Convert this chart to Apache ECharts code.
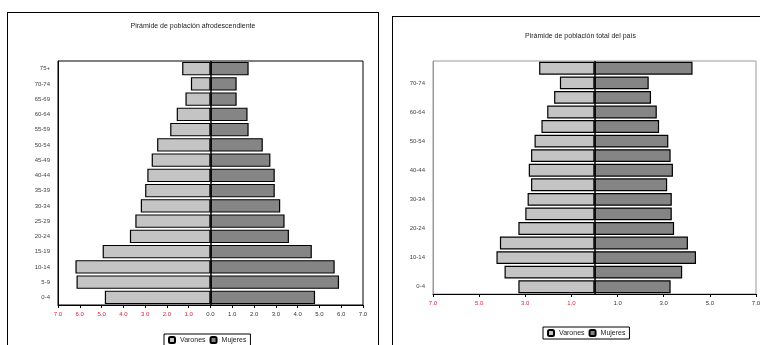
<!DOCTYPE html>
<html>
<head>
<meta charset="utf-8">
<script src="https://cdn.jsdelivr.net/npm/echarts@6/dist/echarts.min.js"></script>
<style>
  body { margin: 0; background: #fff; width: 760px; height: 345px; overflow: hidden; position: relative; }
  .panel { position: absolute; border: 1.5px solid #000; background: #fff; }
  #afro { left: 7px; top: 12px; width: 370px; height: 345px; }
  #total { left: 392px; top: 16px; width: 375px; height: 345px; }
</style>
</head>
<body>
<div id="afro" class="panel"></div>
<div id="total" class="panel"></div>
<script>
var ageGroups = ['0-4', '5-9', '10-14', '15-19', '20-24', '25-29', '30-34', '35-39',
  '40-44', '45-49', '50-54', '55-59', '60-64', '65-69', '70-74', '75+'];

// pirámide afrodescendiente (% de población)
var afroVarones = [4.85, 6.15, 6.2, 4.95, 3.7, 3.45, 3.2, 3.0, 2.9, 2.7, 2.45, 1.85, 1.55, 1.15, 0.9, 1.3];
var afroMujeres = [4.8, 5.9, 5.7, 4.65, 3.6, 3.4, 3.2, 2.95, 2.95, 2.75, 2.4, 1.75, 1.7, 1.2, 1.2, 1.75];

// pirámide total del país
var totalVarones = [3.3, 3.9, 4.25, 4.1, 3.3, 3.0, 2.9, 2.75, 2.85, 2.75, 2.6, 2.3, 2.05, 1.75, 1.5, 2.4];
var totalMujeres = [3.3, 3.8, 4.4, 4.05, 3.45, 3.35, 3.35, 3.15, 3.4, 3.3, 3.2, 2.8, 2.7, 2.45, 2.35, 4.25];

var FONT = 'Liberation Sans';

function pyramid(el, opts) {
  var chart = echarts.init(document.getElementById(el));
  chart.setOption({
    animation: false,
    textStyle: { fontFamily: FONT },
    title: {
      text: opts.title, left: 'center', top: opts.titleTop,
      textStyle: { fontSize: 7, fontWeight: 'normal', color: '#222', fontFamily: FONT }
    },
    legend: {
      data: ['Varones', 'Mujeres'], top: opts.legendTop, left: opts.legendLeft,
      itemWidth: 6, itemHeight: 6, itemGap: 4, padding: [2, 4],
      borderColor: '#000', borderWidth: 1, backgroundColor: '#fff',
      textStyle: { fontSize: 7, color: '#222', fontFamily: FONT }
    },
    grid: {
      left: opts.grid[0], top: opts.grid[1], width: opts.grid[2], height: opts.grid[3],
      show: true, borderColor: opts.borderColor, borderWidth: 1, containLabel: false
    },
    xAxis: {
      type: 'value', min: -7, max: 7, interval: opts.interval,
      splitLine: { show: false },
      axisLine: { show: true, lineStyle: { color: '#000' } },
      axisTick: { show: true, length: 3, lineStyle: { color: '#000' } },
      axisLabel: {
        fontSize: 6, margin: 6, fontFamily: FONT,
        formatter: function (v) { return Math.abs(v).toFixed(1); },
        color: function (v) { return v < 0 ? '#e0203a' : '#333'; }
      }
    },
    yAxis: {
      type: 'category', data: ageGroups,
      axisLine: { show: true, onZero: false, lineStyle: { color: opts.borderColor } },
      axisTick: { show: false },
      axisLabel: { fontSize: 6, color: '#444', margin: 8, interval: opts.labelInterval, fontFamily: FONT }
    },
    series: [{
      name: 'Varones', type: 'bar', stack: 'p', barCategoryGap: '12%',
      itemStyle: { color: '#c4c4c4', borderColor: '#000', borderWidth: 1.2 },
      data: opts.varones.map(function (v) { return -v; }),
      markLine: {
        silent: true, symbol: 'none', label: { show: false },
        lineStyle: { color: '#000', width: 1.5, type: 'solid' },
        data: [{ xAxis: 0 }]
      }
    }, {
      name: 'Mujeres', type: 'bar', stack: 'p', barCategoryGap: '12%',
      itemStyle: { color: '#858585', borderColor: '#000', borderWidth: 1.2 },
      data: opts.mujeres
    }]
  });
}

pyramid('afro', {
  title: 'Pirámide de población afrodescendiente', titleTop: 5,
  grid: [50, 48, 305, 244], borderColor: '#000', interval: 1,
  labelInterval: 0, legendTop: 321, legendLeft: 156,
  varones: afroVarones, mujeres: afroMujeres
});

pyramid('total', {
  title: 'Pirámide de población total del país', titleTop: 11,
  grid: [40, 44, 323, 233], borderColor: '#999', interval: 2,
  labelInterval: 1, legendTop: 310, legendLeft: 150,
  varones: totalVarones, mujeres: totalMujeres
});
</script>
</body>
</html>
